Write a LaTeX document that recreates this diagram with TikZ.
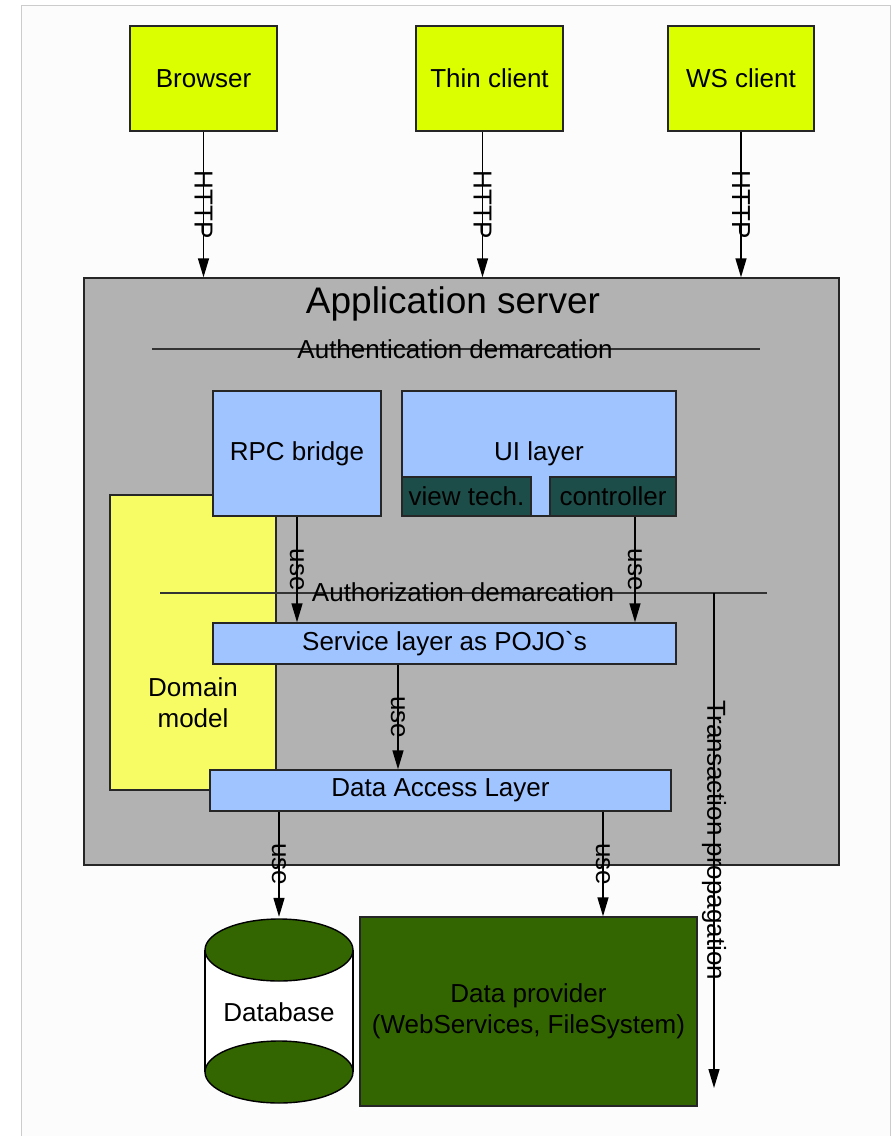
\documentclass[tikz,border=0pt]{standalone}
\usepackage{fontspec}
\setmainfont{Liberation Sans}[Ligatures=TeXOff]
\usetikzlibrary{arrows.meta}
\definecolor{clientyellow}{HTML}{DCFF00}
\definecolor{servergray}{HTML}{B2B2B2}
\definecolor{layerblue}{HTML}{A0C4FF}
\definecolor{domainyellow}{HTML}{F8FC64}
\definecolor{techteal}{HTML}{1D4D48}
\definecolor{datagreen}{HTML}{336600}
\begin{document}
\begin{tikzpicture}[
    x=1pt, y=-1pt,
    every node/.style={font=\fontsize{26pt}{31pt}\selectfont, inner sep=0pt},
    box/.style={rectangle, draw=black!85, line width=1.4pt},
    client/.style={box, fill=clientyellow, minimum height=105pt},
    layer/.style={box, fill=layerblue},
    tech/.style={box, fill=techteal, minimum width=#1, minimum height=39pt},
    demarc/.style={draw=black!80, line width=1.4pt},
    uses/.style={draw, line width=1.4pt, -{Triangle[length=19pt, width=11pt]}},
    tag/.style={rotate=-90}
]
    \useasboundingbox (0,0) rectangle (891,1136);
    \draw[black!20, fill=black!1, line width=1pt] (21,5) rectangle (890,1150);

    % Client
    \node[client, minimum width=147pt] (browser) at (203.5,78.5) {Browser};
    \node[client, minimum width=147pt] (thin) at (489.5,78.5) {Thin client};
    \node[client, minimum width=146pt] (ws) at (741,78.5) {WS client};

    % Application server
    \node[box, fill=servergray, minimum width=755pt, minimum height=587pt] (server) at (461.5,571.5) {};
    \node[anchor=base, font=\fontsize{37pt}{40pt}\selectfont] (title) at (453,313) {Application server};
    \draw[demarc] (152,349) -- (760,349);
    \node (authn) at (455,349) {Authentication demarcation};

    % Domain model
    \node[box, fill=domainyellow, minimum width=166pt, minimum height=295pt] (domain) at (193,642.5) {};
    \node[align=center] (domaintext) at (193,703) {Domain\\model};

    % Layers
    \node[layer, minimum width=168pt, minimum height=125pt] (rpc) at (297,453.5) {RPC bridge};
    \node[layer, minimum width=274pt, minimum height=125pt] (ui) at (539,453.5) {UI layer};
    \node[tech=129pt] (view) at (466.5,496.5) {view tech.};
    \node[tech=126pt] (ctrl) at (613,496.5) {controller};

    \draw[demarc] (160,593) -- (767,593);
    \node (authz) at (463,592) {Authorization demarcation};

    \node[layer, minimum width=463pt, minimum height=41pt] (service) at (444.5,643.5) {Service layer as POJO\symbol{96}s};
    \node[layer, minimum width=461pt, minimum height=41pt] (dal) at (440.5,790.5) {Data Access Layer};

    % Backends
    \node[minimum width=148pt, minimum height=187pt] (db) at (279,1010.5) {};
    \fill[white] (205,950) rectangle (353,1072);
    \draw[line width=1.4pt] (205,950) -- (205,1072) (353,950) -- (353,1072);
    \draw[line width=1.4pt, fill=datagreen] (279,1072) ellipse (74pt and 31pt);
    \draw[line width=1.4pt, fill=datagreen] (279,950) ellipse (74pt and 31pt);
    \node (dbtext) at (279,1012) {Database};
    \node[box, fill=datagreen, minimum width=337pt, minimum height=189pt, align=center] (provider) at (528.5,1011.5) {Data provider\\(WebServices, FileSystem)};

    % Arrows
    \coordinate (thinout) at ([xshift=-7pt]thin.south);
    \coordinate (ctrlout) at ([xshift=22pt]ctrl.south);
    \coordinate (serviceout) at ([xshift=-46.5pt]service.south);
    \coordinate (provin) at ([xshift=74.5pt]provider.north);
    \coordinate (txstart) at (714,593);
    \coordinate (txend) at (714,1088);

    \draw[uses] (browser.south) -- node[tag] {HTTP} (browser.south |- server.north);
    \draw[uses] (thinout) -- node[tag] {HTTP} (thinout |- server.north);
    \draw[uses] (ws.south) -- node[tag] {HTTP} (ws.south |- server.north);
    \draw[uses] (rpc.south) -- node[tag] {use} (rpc.south |- service.north);
    \draw[uses] (ctrlout) -- node[tag] {use} (ctrlout |- service.north);
    \draw[uses] (serviceout) -- node[tag] {use} (serviceout |- dal.north);
    \draw[uses] (db.north |- dal.south) -- node[tag] {use} (db.north);
    \draw[uses] (provin |- dal.south) -- node[tag] {use} (provin);
    \draw[uses] (txstart) -- node[tag] {Transaction propagation} (txend);
\end{tikzpicture}
\end{document}
